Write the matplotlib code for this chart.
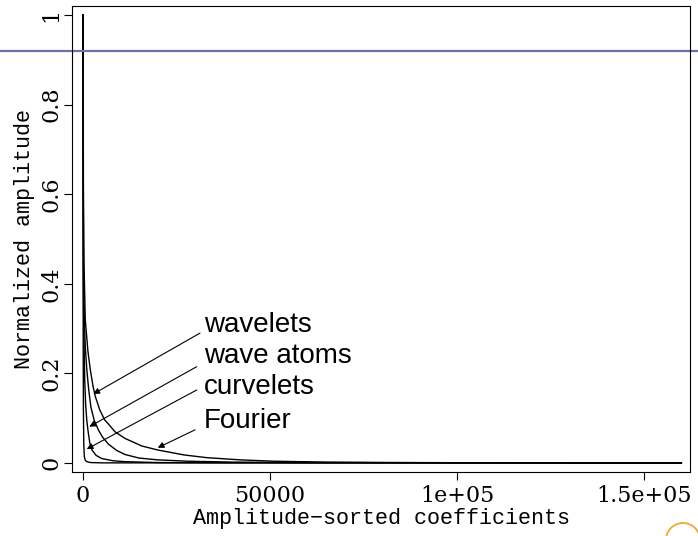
import matplotlib
matplotlib.use('Agg')
import matplotlib.pyplot as plt
from matplotlib.patches import Ellipse

# sorted coefficient amplitudes (x = coefficient index, y = normalized amplitude)
fourier_x = [0, 100, 250, 600, 1300, 1950, 2700, 3300, 4500, 5800, 6800, 8500, 11200,
             15700, 20000, 27000, 33000, 42000, 51000, 65000, 80000, 100000, 130000, 160000]
fourier_y = [1.0, 0.62, 0.45, 0.32, 0.25, 0.208, 0.17, 0.148, 0.118, 0.096, 0.087, 0.07, 0.055,
             0.038, 0.029, 0.018, 0.012, 0.007, 0.004, 0.002, 0.0012, 0.0006, 0.0002, 0.0]

wavelets_x = [0, 60, 150, 300, 600, 1000, 1500, 2100, 3000, 4100, 5200, 6800, 9000,
              11200, 15000, 20000, 28000, 40000, 60000, 100000, 160000]
wavelets_y = [1.0, 0.6, 0.43, 0.33, 0.26, 0.21, 0.165, 0.125, 0.095, 0.074, 0.058, 0.042, 0.028,
              0.019, 0.011, 0.007, 0.004, 0.002, 0.001, 0.0004, 0.0]

waveatoms_x = [0, 30, 80, 200, 450, 700, 1000, 1300, 1800, 2400, 3500, 5000, 8000,
               11200, 20000, 40000, 160000]
waveatoms_y = [1.0, 0.6, 0.42, 0.3, 0.185, 0.13, 0.096, 0.074, 0.045, 0.029, 0.017, 0.01, 0.005,
               0.003, 0.001, 0.0004, 0.0]

curvelets_x = [0, 20, 50, 100, 200, 350, 600, 1000, 2000, 5000, 160000]
curvelets_y = [1.0, 0.5, 0.25, 0.12, 0.04, 0.014, 0.006, 0.003, 0.001, 0.0003, 0.0]

# label text, label anchor, arrow tip
labels = ['wavelets', 'wave atoms', 'curvelets', 'Fourier']
label_x = [32350, 32350, 32350, 32350]
label_y = [0.308, 0.239, 0.170, 0.094]
arrow_from_x = [31280, 30400, 30400, 29950]
arrow_from_y = [0.290, 0.215, 0.163, 0.074]
arrow_to_x = [2750, 1680, 990, 19970]
arrow_to_y = [0.154, 0.081, 0.031, 0.034]

xticks = [0, 50000, 100000, 150000]
xticklabels = ['0', '50000', '1e+05', '1.5e+05']
yticks = [0, 0.2, 0.4, 0.6, 0.8, 1.0]
yticklabels = ['0', '0.2', '0.4', '0.6', '0.8', '1']
threshold = 0.92

fig = plt.figure(figsize=(6.98, 5.36), dpi=100)
ax = fig.add_axes([0.1032, 0.1194, 0.8853, 0.8694])

for xs, ys in [(fourier_x, fourier_y), (wavelets_x, wavelets_y),
               (waveatoms_x, waveatoms_y), (curvelets_x, curvelets_y)]:
    ax.plot(xs, ys, color='black', lw=1.0)

# horizontal line running across the whole slide
ax.plot([-0.2, 1.2], [threshold, threshold], color='#6e71aa', lw=1.6,
        transform=ax.get_yaxis_transform(), clip_on=False)

for i in range(len(labels)):
    ax.annotate('', xy=(arrow_to_x[i], arrow_to_y[i]), xytext=(arrow_from_x[i], arrow_from_y[i]),
                arrowprops=dict(arrowstyle='-|>', color='black', lw=0.8,
                                mutation_scale=9, shrinkA=0, shrinkB=0))
    ax.text(label_x[i], label_y[i], labels[i], fontsize=20, family='Liberation Sans',
            ha='left', va='center')

ax.set_xlim(-2941, 162300)
ax.set_ylim(-0.0201, 1.0201)
ax.set_xticks(xticks)
ax.set_xticklabels(xticklabels)
ax.set_yticks(yticks)
ax.set_yticklabels(yticklabels, rotation=90, va='center')
ax.tick_params(axis='both', direction='out', length=6, width=0.8, labelsize=16)
ax.tick_params(axis='x', pad=3)
ax.tick_params(axis='y', pad=1)
for lab in ax.get_xticklabels() + ax.get_yticklabels():
    lab.set_family('DejaVu Serif')
for sp in ax.spines.values():
    sp.set_linewidth(0.8)

ax.set_xlabel('Amplitude\u2212sorted coefficients', family='Liberation Mono', fontsize=15.7, labelpad=1)
ax.set_ylabel('Normalized amplitude', family='Liberation Mono', fontsize=15.7, labelpad=4)

# bit of the logo in the corner
fig.add_artist(Ellipse((683 / 698, 1 - 540 / 536), 34 / 698, 34 / 536, transform=fig.transFigure,
                       fill=False, edgecolor='#f0a830', lw=1.3))

fig.savefig('out.png', dpi=100)
